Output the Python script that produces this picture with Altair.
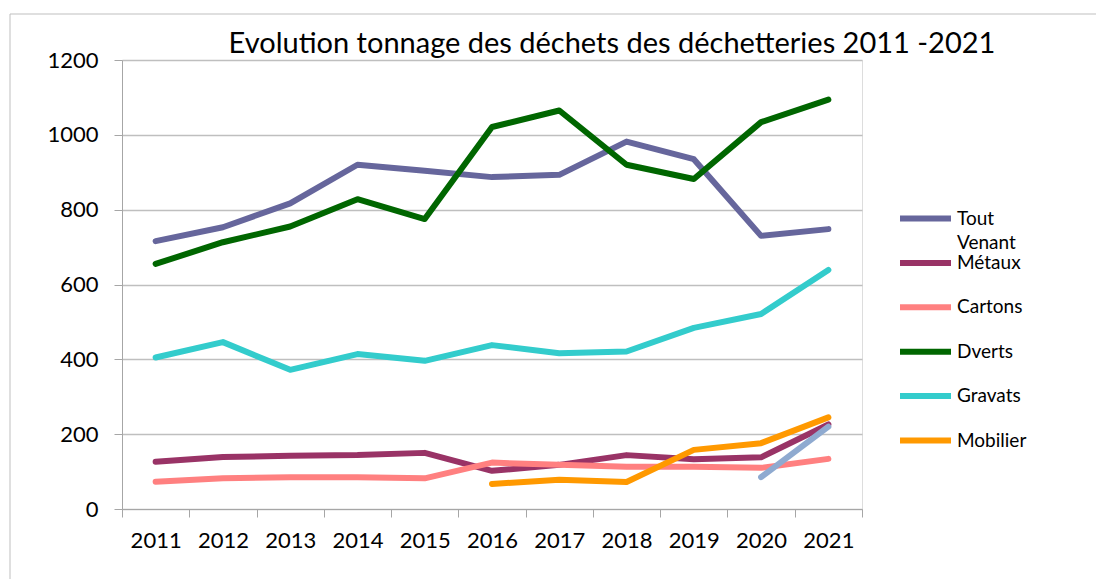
import altair as alt
import pandas as pd

years = ["2011", "2012", "2013", "2014", "2015", "2016", "2017", "2018", "2019", "2020", "2021"]
tout_venant = [716, 753, 817, 920, 904, 887, 893, 982, 935, 730, 748]
metaux = [126, 139, 142, 144, 150, 102, 118, 144, 133, 138, 226]
cartons = [73, 82, 85, 85, 82, 124, 118, 113, 113, 110, 134]
dverts = [655, 713, 755, 828, 775, 1021, 1065, 920, 882, 1034, 1094]
gravats = [405, 446, 372, 414, 396, 438, 416, 421, 484, 521, 639]
mobilier = [None, None, None, None, None, 67, 78, 72, 158, 176, 245]
autre = [None, None, None, None, None, None, None, None, None, 85, 220]

series_names = ["Tout Venant", "Métaux", "Cartons", "Dverts", "Gravats", "Mobilier"]
series_vals = [tout_venant, metaux, cartons, dverts, gravats, mobilier]
colors = ["#66669C", "#993366", "#FF8080", "#006600", "#33CCCC", "#FF9900"]
title_text = "Evolution tonnage des déchets des déchetteries 2011 -2021"

rows = []
for name, vals in zip(series_names, series_vals):
    for y, v in zip(years, vals):
        if v is not None:
            rows.append({"Année": y, "Série": name, "Tonnage": v})
df = pd.DataFrame(rows)

rows2 = [{"Année": y, "Tonnage": v} for y, v in zip(years, autre) if v is not None]
df2 = pd.DataFrame(rows2)

FONT = "Lato"

x_enc = alt.X("Année:N", sort=years, title=None,
              scale=alt.Scale(paddingInner=0, paddingOuter=0),
              axis=alt.Axis(labelAngle=0, labelFontSize=22, labelPadding=13, tickBand="extent",
                            tickSize=8, tickColor="#A6A6A6", domainColor="#A6A6A6",
                            labelColor="#000000", grid=False, labelFont=FONT))
y_enc = alt.Y("Tonnage:Q", title=None,
              scale=alt.Scale(domain=[0, 1200], nice=False),
              axis=alt.Axis(values=[0, 200, 400, 600, 800, 1000, 1200], format="d", labelFontSize=22,
                            labelPadding=16, tickSize=8, tickColor="#A6A6A6", domainColor="#A6A6A6",
                            gridColor="#BFBFBF", gridWidth=1.5, labelColor="#000000", labelFont=FONT))

lines = alt.Chart(df).mark_line(strokeWidth=6, strokeCap="round", strokeJoin="round").encode(
    x=x_enc,
    y=y_enc,
    color=alt.Color("Série:N", sort=series_names,
                    scale=alt.Scale(domain=series_names, range=colors),
                    legend=alt.Legend(title=None, orient="none", legendX=775, legendY=130,
                                      symbolType="stroke", symbolSize=2601, symbolStrokeWidth=6,
                                      labelFontSize=19, labelFont=FONT, labelColor="#000000",
                                      rowPadding=3.4, labelOffset=3, padding=0,
                                      labelExpr="datum.label == 'Tout Venant' ? 'Tout' : datum.label")),
    detail="Série:N",
)

extra = alt.Chart(df2).mark_line(strokeWidth=6, strokeCap="round", color="#8FAAD0").encode(
    x=alt.X("Année:N", sort=years),
    y="Tonnage:Q",
)

venant = alt.Chart(pd.DataFrame({"t": ["Venant"]})).mark_text(
    fontSize=19, font=FONT, align="left", baseline="middle", color="#000000"
).encode(text="t:N", x=alt.value(835), y=alt.value(183))

title = alt.Chart(pd.DataFrame({"t": [title_text]})).mark_text(
    fontSize=29, font=FONT, align="center", baseline="alphabetic", color="#000000"
).encode(text="t:N", x=alt.value(490), y=alt.value(-7))

frame = alt.Chart(pd.DataFrame({"a": [0]})).mark_rect(
    fill=None, stroke="#BFBFBF", strokeWidth=1, clip=False
).encode(x=alt.value(-112), x2=alt.value(1000), y=alt.value(-46), y2=alt.value(560))

chart = alt.layer(frame, lines, extra, venant, title).properties(
    width=740, height=449,
    autosize="none",
    padding={"left": 114, "top": 52, "right": 234, "bottom": 70},
).configure_view(stroke=None).configure(background="white")

chart.save("out.html", embed_options={"renderer": "svg", "actions": False})
